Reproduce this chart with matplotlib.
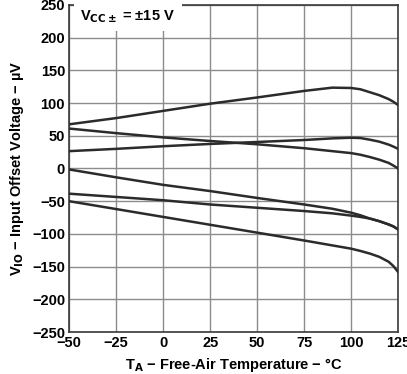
import matplotlib
matplotlib.use("Agg")
import matplotlib.pyplot as plt

plt.rcParams["font.family"] = ["Liberation Sans", "DejaVu Sans"]
plt.rcParams["font.weight"] = "bold"

# temperatures (°C) at which each curve was read
TEMP = [-50, -25, 0, 25, 50, 75, 90, 100, 105, 110, 115, 120, 122.5, 125]

# input offset voltage (µV), one list per device curve
VIO_A = [67.5, 77, 88, 99, 108.5, 118.5, 123.5, 123, 121, 116.5, 112, 106, 102, 97]
VIO_B = [61, 54, 47.5, 42, 37, 31, 26.5, 23.5, 21, 17.5, 13.5, 8.5, 4.5, 0]
VIO_C = [26.5, 30, 34, 37.5, 40.5, 43.5, 46, 47, 46.5, 44, 41, 36.5, 33.5, 30]
VIO_D = [-1.5, -13.5, -25, -34.5, -45, -55, -61.5, -67.5, -71.5, -76.5, -80.5, -85.5, -88.5, -93]
VIO_E = [-38.5, -43.5, -48.5, -55, -60, -65, -68.5, -72, -74, -76.5, -80.5, -85.5, -88.5, -93]
VIO_F = [-50, -62, -74, -86, -98, -110, -117.5, -122.5, -126, -130, -135, -142.5, -149, -158]

CURVES = [VIO_A, VIO_B, VIO_C, VIO_D, VIO_E, VIO_F]
XTICKS = [-50, -25, 0, 25, 50, 75, 100, 125]
YTICKS = [-250, -200, -150, -100, -50, 0, 50, 100, 150, 200, 250]

LINE = "#2b2b2b"
GRID = "#8c8c8c"

fig = plt.figure(figsize=(4.07, 3.74), dpi=100)
ax = fig.add_axes([0.170, 0.112, 0.808, 0.875])

for ys in CURVES:
    ax.plot(TEMP, ys, color=LINE, lw=1.8, solid_joinstyle="round", zorder=3)

ax.set_xlim(-50, 125)
ax.set_ylim(-250, 250)
ax.set_xticks(XTICKS)
ax.set_yticks(YTICKS)
ax.grid(True, color=GRID, lw=1.0)
ax.set_axisbelow(True)
ax.tick_params(length=0, labelsize=10.5, pad=3)
for s in ax.spines.values():
    s.set_color("#3a3a3a")
    s.set_linewidth(1.2)

ax.text(-44, 232, r"V$_{\mathbf{CC\pm}}$ = ±15 V", fontsize=10.5, weight="bold",
        va="center", ha="left", zorder=4,
        bbox=dict(facecolor="white", edgecolor="none", pad=4.5))

ax.set_xlabel(r"T$_{\mathbf{A}}$ − Free-Air Temperature − °C", fontsize=10.5, weight="bold", labelpad=4)
ax.set_ylabel(r"V$_{\mathbf{IO}}$ − Input Offset Voltage − µV", fontsize=10.5, weight="bold", labelpad=4)

fig.savefig("out.png", dpi=100)
